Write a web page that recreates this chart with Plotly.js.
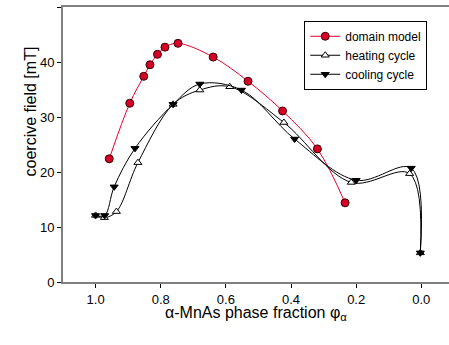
<!DOCTYPE html>
<html>
<head>
<meta charset="utf-8">
<script src="https://cdn.plot.ly/plotly-3.0.1.min.js"></script>
<style>html,body{margin:0;padding:0;background:#fff;}#chart{width:449px;height:345px;}</style>
</head>
<body>
<div id="chart"></div>
<script>
const domainX = [0.958, 0.895, 0.852, 0.833, 0.81, 0.787, 0.747, 0.639, 0.532, 0.426, 0.319, 0.234];
const domainY = [22.4, 32.5, 37.4, 39.5, 41.4, 42.7, 43.4, 40.9, 36.5, 31.1, 24.2, 14.4];

const heatingX = [1.0, 0.973, 0.936, 0.870, 0.762, 0.68, 0.588, 0.422, 0.215, 0.036, 0.003];
const heatingY = [12.1, 11.7, 12.8, 21.7, 32.3, 34.9, 35.5, 29.0, 18.1, 19.7, 5.3];

const coolingX = [1.0, 0.972, 0.943, 0.879, 0.762, 0.68, 0.552, 0.389, 0.2, 0.031, 0.003];
const coolingY = [12.1, 12.1, 17.3, 24.3, 32.3, 36.0, 34.9, 26.0, 18.5, 20.7, 5.3];

const xTicks = [1.0, 0.8, 0.6, 0.4, 0.2, 0.0];
const xTickLabels = ['1.0', '0.8', '0.6', '0.4', '0.2', '0.0'];
const yTicks = [0, 10, 20, 30, 40, 50];

const font = 'Liberation Sans, Arial, sans-serif';

const traces = [
  {x: domainX, y: domainY, name: 'domain model', mode: 'lines+markers',
   line: {color: '#e8002d', width: 1, shape: 'spline'},
   marker: {symbol: 'circle', size: 8, color: '#d6002a', line: {color: '#3a0000', width: 1}}},
  {x: heatingX, y: heatingY, name: 'heating cycle', mode: 'lines+markers',
   line: {color: '#000', width: 1, shape: 'spline'},
   marker: {symbol: 'triangle-up', size: 7, color: '#fff', line: {color: '#000', width: 1}}},
  {x: coolingX, y: coolingY, name: 'cooling cycle', mode: 'lines+markers',
   line: {color: '#000', width: 1, shape: 'spline'},
   marker: {symbol: 'triangle-down', size: 7, color: '#000', line: {color: '#000', width: 1}}}
];

const layout = {
  width: 449, height: 345,
  margin: {l: 63, r: 0, t: 7, b: 63},
  paper_bgcolor: '#fff', plot_bgcolor: '#fff',
  font: {family: font, size: 13, color: '#000'},
  showlegend: true,
  legend: {x: 0.625, y: 0.95, xanchor: 'left', yanchor: 'top',
    bordercolor: '#000', borderwidth: 1, bgcolor: '#fff',
    font: {family: font, size: 12, color: '#000'}, tracegroupgap: 0, itemwidth: 30},
  xaxis: {range: [1.1, -0.085], tickvals: xTicks, ticktext: xTickLabels,
    ticks: 'outside', ticklen: 4, tickcolor: '#000', tickwidth: 1,
    showline: true, linecolor: '#808080', linewidth: 2, mirror: true,
    showgrid: false, zeroline: false, tickfont: {size: 13, family: font}},
  yaxis: {range: [0, 50], tickvals: yTicks,
    ticks: 'outside', ticklen: 4, tickcolor: '#000', tickwidth: 1,
    showline: true, linecolor: '#808080', linewidth: 2,
    showgrid: false, zeroline: false, tickfont: {size: 13, family: font}},
  annotations: [
    {text: 'α-MnAs phase fraction φ<sub>α</sub>', xref: 'paper', yref: 'paper',
     x: 0.5, y: -0.074, xanchor: 'center', yanchor: 'top', showarrow: false,
     font: {family: font, size: 16, color: '#000'}},
    {text: 'coercive field [mT]', xref: 'paper', yref: 'paper', textangle: -90,
     x: -0.083, y: 0.62, xanchor: 'center', yanchor: 'middle', showarrow: false,
     font: {family: font, size: 16, color: '#000'}}
  ]
};

Plotly.newPlot('chart', traces, layout, {displayModeBar: false, staticPlot: true});
</script>
</body>
</html>
